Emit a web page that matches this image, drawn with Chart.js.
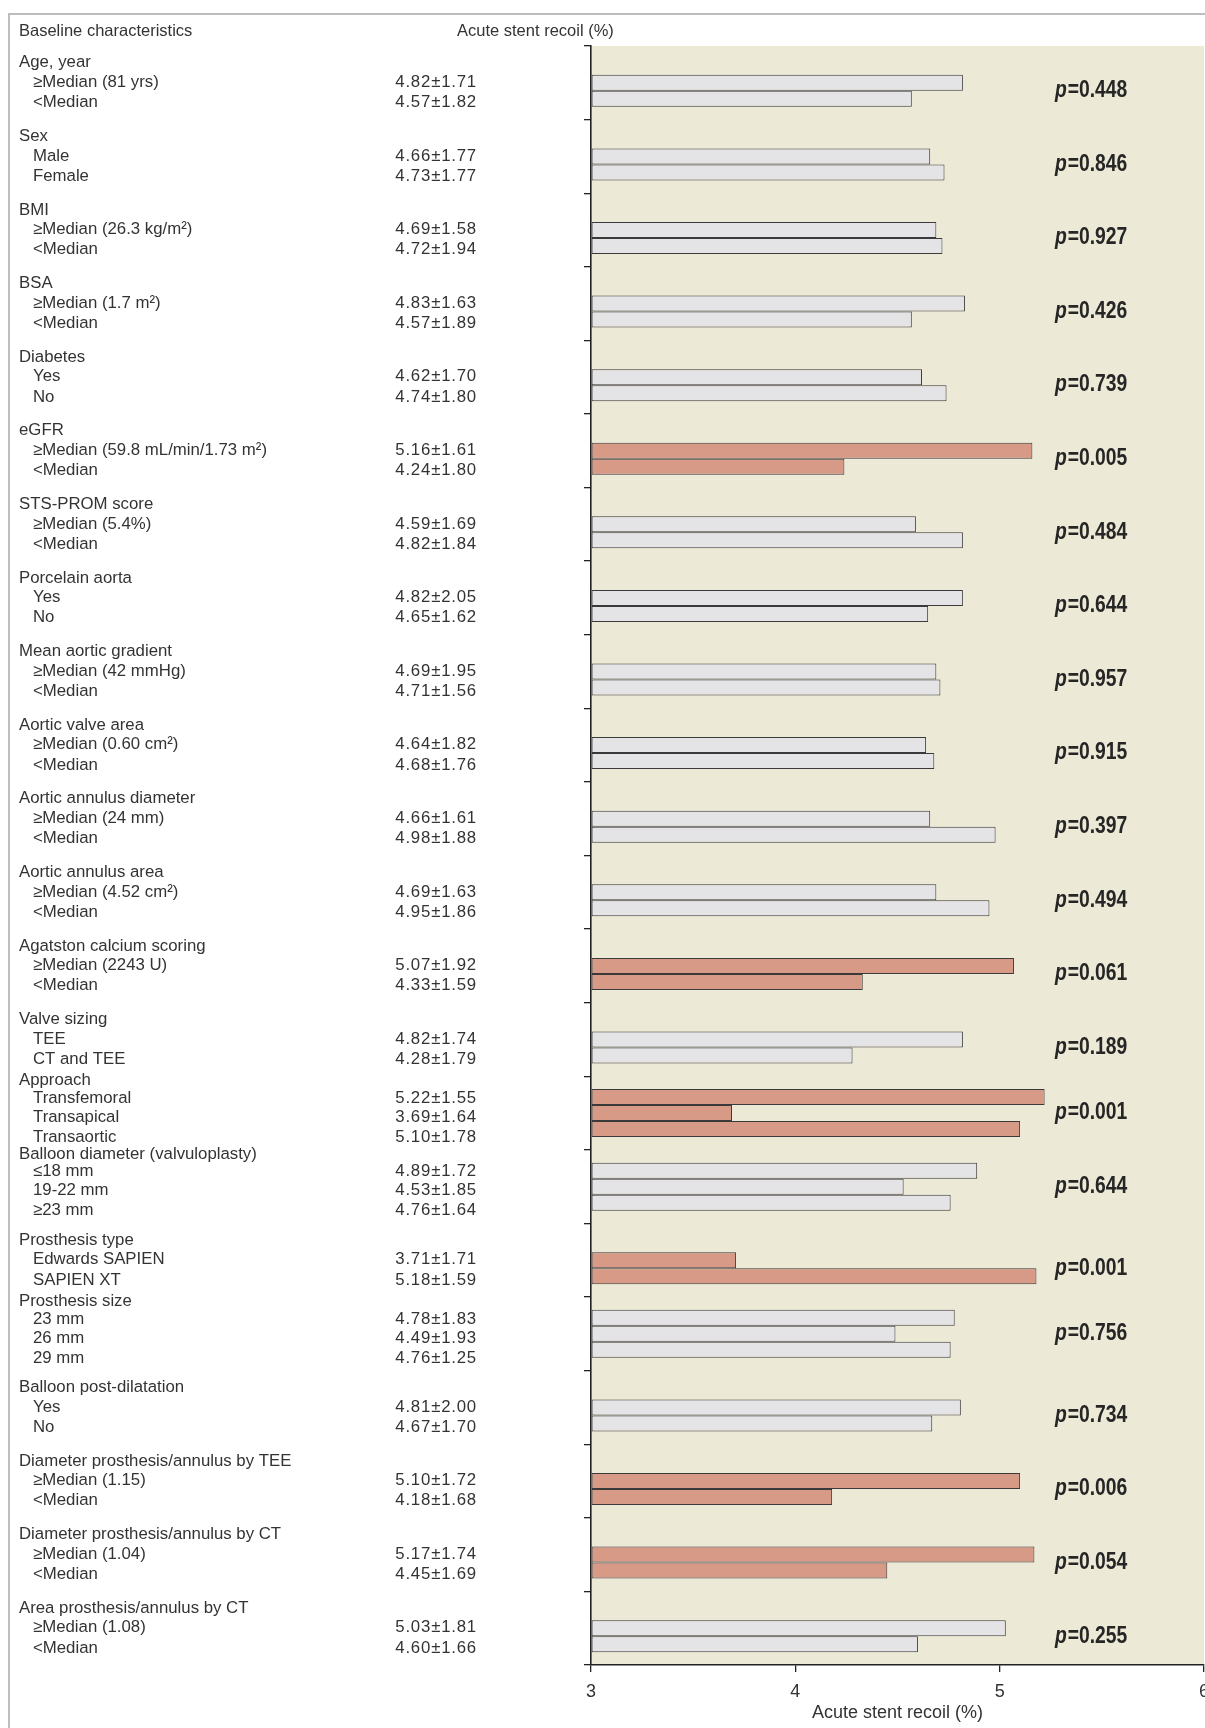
<!DOCTYPE html>
<html>
<head>
<meta charset="utf-8">
<script src="https://cdn.jsdelivr.net/npm/chart.js@4"></script>
<style>
  html, body { margin: 0; padding: 0; background: #fff; overflow: hidden; }
</style>
</head>
<body>
<canvas id="recoilChart" width="1205" height="1728"></canvas>
<script>
// baseline characteristic groups, one band each on the y axis
const groups = [
  'Age, year', 'Sex', 'BMI', 'BSA', 'Diabetes', 'eGFR', 'STS-PROM score',
  'Porcelain aorta', 'Mean aortic gradient', 'Aortic valve area',
  'Aortic annulus diameter', 'Aortic annulus area', 'Agatston calcium scoring',
  'Valve sizing', 'Approach', 'Balloon diameter (valvuloplasty)', 'Prosthesis type',
  'Prosthesis size', 'Balloon post-dilatation', 'Diameter prosthesis/annulus by TEE',
  'Diameter prosthesis/annulus by CT', 'Area prosthesis/annulus by CT'
];
const subgroups = [
  ['≥Median (81 yrs)', '<Median'],
  ['Male', 'Female'],
  ['≥Median (26.3 kg/m²)', '<Median'],
  ['≥Median (1.7 m²)', '<Median'],
  ['Yes', 'No'],
  ['≥Median (59.8 mL/min/1.73 m²)', '<Median'],
  ['≥Median (5.4%)', '<Median'],
  ['Yes', 'No'],
  ['≥Median (42 mmHg)', '<Median'],
  ['≥Median (0.60 cm²)', '<Median'],
  ['≥Median (24 mm)', '<Median'],
  ['≥Median (4.52 cm²)', '<Median'],
  ['≥Median (2243 U)', '<Median'],
  ['TEE', 'CT and TEE'],
  ['Transfemoral', 'Transapical', 'Transaortic'],
  ['≤18 mm', '19-22 mm', '≥23 mm'],
  ['Edwards SAPIEN', 'SAPIEN XT'],
  ['23 mm', '26 mm', '29 mm'],
  ['Yes', 'No'],
  ['≥Median (1.15)', '<Median'],
  ['≥Median (1.04)', '<Median'],
  ['≥Median (1.08)', '<Median']
];
// acute stent recoil (%), mean and SD per subgroup
const recoilMean = [
  [4.82, 4.57], [4.66, 4.73], [4.69, 4.72], [4.83, 4.57], [4.62, 4.74],
  [5.16, 4.24], [4.59, 4.82], [4.82, 4.65], [4.69, 4.71], [4.64, 4.68],
  [4.66, 4.98], [4.69, 4.95], [5.07, 4.33], [4.82, 4.28], [5.22, 3.69, 5.10],
  [4.89, 4.53, 4.76], [3.71, 5.18], [4.78, 4.49, 4.76], [4.81, 4.67],
  [5.10, 4.18], [5.17, 4.45], [5.03, 4.60]
];
const recoilSD = [
  [1.71, 1.82], [1.77, 1.77], [1.58, 1.94], [1.63, 1.89], [1.70, 1.80],
  [1.61, 1.80], [1.69, 1.84], [2.05, 1.62], [1.95, 1.56], [1.82, 1.76],
  [1.61, 1.88], [1.63, 1.86], [1.92, 1.59], [1.74, 1.79], [1.55, 1.64, 1.78],
  [1.72, 1.85, 1.64], [1.71, 1.59], [1.83, 1.93, 1.25], [2.00, 1.70],
  [1.72, 1.68], [1.74, 1.69], [1.81, 1.66]
];
const pValues = [
  0.448, 0.846, 0.927, 0.426, 0.739, 0.005, 0.484, 0.644, 0.957, 0.915, 0.397,
  0.494, 0.061, 0.189, 0.001, 0.644, 0.001, 0.756, 0.734, 0.006, 0.054, 0.255
];
const xTicks = [3, 4, 5, 6];

const FONT = '"Liberation Sans", Arial, sans-serif';
const INK = '#333';

// three bar slots per band; groups with two bars use the lower two
const slots = [0, 1, 2].map(s => groups.map((g, i) => {
  const k = s - (3 - recoilMean[i].length);
  return k >= 0 ? recoilMean[i][k] : null;
}));
const fills = pValues.map(p => p < 0.1 ? '#d79a87' : '#e4e4e6');

const sheet = {
  id: 'sheet',
  beforeDraw(chart) {
    const { ctx, chartArea: a } = chart;
    ctx.save();
    ctx.fillStyle = '#ece9d6';
    ctx.fillRect(a.left, a.top, a.right - a.left, a.bottom - a.top);
    ctx.strokeStyle = '#bdbdbd';
    ctx.lineWidth = 2;
    ctx.beginPath();
    ctx.moveTo(9, chart.height);
    ctx.lineTo(9, 14);
    ctx.lineTo(chart.width, 14);
    ctx.stroke();
    ctx.restore();
  },
  afterDraw(chart) {
    const { ctx } = chart;
    const ys = chart.scales.y;
    const band = (ys.bottom - ys.top) / groups.length;
    ctx.save();
    ctx.fillStyle = INK;
    ctx.textBaseline = 'middle';
    ctx.font = '16.5px ' + FONT;
    ctx.fillText('Baseline characteristics', 19, 31);
    ctx.fillText('Acute stent recoil (%)', 457, 31);

    groups.forEach((g, i) => {
      const top = ys.top + band * i;
      const rows = subgroups[i].length === 3 ? [4.4, 22, 41, 61] : [16.8, 36.4, 56.6];
      ctx.font = '16.8px ' + FONT;
      ctx.textAlign = 'left';
      ctx.letterSpacing = '0px';
      ctx.fillText(g, 19, top + rows[0]);
      subgroups[i].forEach((s, k) => {
        ctx.textAlign = 'left';
        ctx.letterSpacing = '0px';
        ctx.fillText(s, 33, top + rows[k + 1]);
        ctx.textAlign = 'right';
        ctx.letterSpacing = '0.8px';
        ctx.fillText(recoilMean[i][k].toFixed(2) + '±' + recoilSD[i][k].toFixed(2), 477, top + rows[k + 1]);
      });
      ctx.letterSpacing = '0px';

      // p value sits at the middle of the group's bars, in a condensed bold face
      const barYs = chart.data.datasets
        .map((d, s) => d.data[i] == null ? null : chart.getDatasetMeta(s).data[i].y)
        .filter(v => v != null);
      const py = barYs.reduce((a, b) => a + b, 0) / barYs.length;
      ctx.save();
      ctx.translate(1055, py);
      ctx.scale(0.84, 1);
      ctx.textAlign = 'left';
      ctx.fillStyle = '#262626';
      ctx.font = 'italic bold 23px ' + FONT;
      ctx.fillText('p', 0, 0);
      const pw = ctx.measureText('p').width;
      ctx.font = 'bold 23px ' + FONT;
      ctx.fillText('=' + pValues[i].toFixed(3), pw + 1, 0);
      ctx.restore();
    });
    ctx.restore();
  }
};

Chart.defaults.font.family = FONT;
Chart.defaults.color = INK;

new Chart(document.getElementById('recoilChart'), {
  type: 'bar',
  data: {
    labels: groups,
    datasets: slots.map(data => ({
      data: data,
      base: 3,
      backgroundColor: fills,
      borderColor: '#3a3a3a',
      borderWidth: 1,
      borderSkipped: false,
      categoryPercentage: 0.652,
      barPercentage: 1
    }))
  },
  options: {
    indexAxis: 'y',
    responsive: false,
    animation: false,
    layout: { padding: { left: 584, top: 46, right: 1, bottom: 1 } },
    plugins: { legend: { display: false }, tooltip: { enabled: false } },
    scales: {
      x: {
        type: 'linear',
        min: xTicks[0],
        max: xTicks[xTicks.length - 1],
        afterBuildTicks: scale => { scale.ticks = xTicks.map(v => ({ value: v })); },
        afterFit: scale => { scale.paddingRight = 0; scale.height = 62; },
        ticks: { color: INK, padding: 9, font: { size: 18 } },
        grid: { drawOnChartArea: false, color: '#222', tickLength: 7, lineWidth: 1.3 },
        border: { color: '#222', width: 1.6 },
        title: {
          display: true,
          text: 'Acute stent recoil (%)',
          color: INK,
          font: { size: 18 },
          padding: { top: 2, bottom: 3 }
        }
      },
      y: {
        type: 'category',
        offset: true,
        ticks: { display: false },
        grid: { offset: true, drawOnChartArea: false, color: '#222', tickLength: 7, lineWidth: 1.3 },
        border: { color: '#222', width: 1.6 }
      }
    }
  },
  plugins: [sheet]
});
</script>
</body>
</html>
